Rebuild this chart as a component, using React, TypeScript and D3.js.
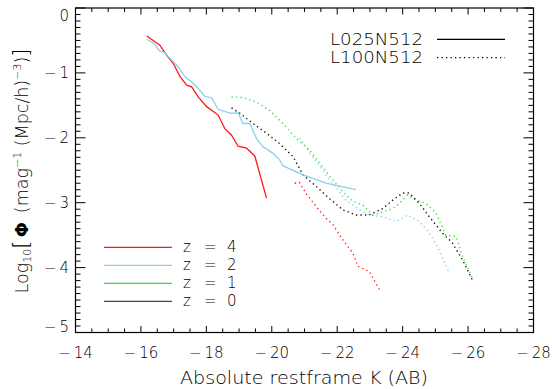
import React from "react";
import * as d3 from "d3";

type Pt = [number, number];

// Luminosity function curves: [absolute K magnitude, log10 Phi]
const z4Small: Pt[] = [
  [-16.18, -0.43], [-16.58, -0.574], [-16.79, -0.728], [-16.99, -0.855], [-17.2, -1.06],
  [-17.4, -1.19], [-17.55, -1.215], [-17.75, -1.37], [-18.01, -1.52], [-18.36, -1.65],
  [-18.56, -1.855], [-18.77, -1.96], [-18.97, -2.13], [-19.23, -2.16], [-19.48, -2.28],
  [-19.84, -2.93],
];
const z2Small: Pt[] = [
  [-16.18, -0.486], [-16.38, -0.538], [-16.58, -0.666], [-16.73, -0.686], [-16.94, -0.805],
  [-17.14, -0.908], [-17.35, -1.06], [-17.55, -1.14], [-17.75, -1.24], [-17.95, -1.36],
  [-18.16, -1.385], [-18.36, -1.56], [-18.72, -1.62], [-18.97, -1.615], [-19.12, -1.78],
  [-19.33, -1.78], [-19.53, -2.01], [-19.73, -2.14], [-20.04, -2.24], [-20.24, -2.34],
  [-20.34, -2.43], [-20.95, -2.57], [-21.66, -2.7], [-22.58, -2.8],
];
const z4Large: Pt[] = [
  [-20.7, -2.7], [-20.85, -2.69], [-21.05, -2.86], [-21.36, -3.06], [-21.66, -3.24],
  [-21.87, -3.34], [-22.17, -3.57], [-22.48, -3.78], [-22.63, -3.98], [-22.98, -4.06],
  [-23.29, -4.34],
];
const z2Large: Pt[] = [
  [-20.85, -2.0], [-21.26, -2.3], [-21.77, -2.65], [-22.27, -2.96], [-22.68, -3.11],
  [-22.98, -3.19], [-23.39, -3.22], [-23.8, -3.29], [-24.15, -3.19], [-24.51, -3.29],
  [-24.82, -3.47], [-25.12, -3.73], [-25.43, -4.09],
];
const z1Large: Pt[] = [
  [-18.77, -1.37], [-19.12, -1.38], [-19.53, -1.45], [-19.94, -1.58], [-20.34, -1.78],
  [-20.75, -2.01], [-21.16, -2.19], [-21.46, -2.39], [-21.87, -2.65], [-22.17, -2.83],
  [-22.48, -2.98], [-22.78, -3.035], [-23.09, -3.19], [-23.39, -3.14], [-23.7, -3.09],
  [-23.9, -3.01], [-24.15, -2.88], [-24.41, -2.96], [-24.71, -3.01], [-25.02, -3.16],
  [-25.32, -3.5], [-25.63, -3.52], [-25.83, -3.83], [-26.13, -4.16],
];
const z0Large: Pt[] = [
  [-18.77, -1.54], [-19.02, -1.62], [-19.43, -1.78], [-19.84, -1.93], [-20.24, -2.09],
  [-20.65, -2.29], [-20.95, -2.57], [-21.36, -2.75], [-21.77, -2.94], [-22.17, -3.11],
  [-22.58, -3.19], [-22.98, -3.19], [-23.39, -3.09], [-23.7, -2.96], [-24.0, -2.85],
  [-24.2, -2.85], [-24.51, -3.01], [-24.82, -3.22], [-25.22, -3.47], [-25.52, -3.62],
  [-25.83, -3.88], [-26.16, -4.22],
];

const xTicks = [-14, -16, -18, -20, -22, -24, -26, -28];
const yTicks = [0, -1, -2, -3, -4, -5];
const redshiftLabels = ["4", "2", "1", "0"];
const boxLabels = ["L025N512", "L100N512"];

const RED = "#ff1a1a";
const BLUE = "#8ccfec";
const GREEN = "#33e633";
const BLACK = "#111";
const redshiftColors = [RED, BLUE, GREEN, "#444"];

const W = 552;
const H = 389;
const M = { left: 75.5, right: 533.5, top: 8, bottom: 332.5 };
const FONT = "DejaVu Sans";

export default function App() {
  const x = d3.scaleLinear().domain([-14, -28]).range([M.left, M.right]);
  const y = d3.scaleLinear().domain([0, -5]).range([M.top, M.bottom]);
  const line = d3
    .line<Pt>()
    .x((d) => x(d[0]))
    .y((d) => y(d[1]));

  const xMinor = d3.range(-14, -28.01, -0.5);
  const yMinor = d3.range(0, -5.001, -0.1);

  const solids: [Pt[], string][] = [
    [z4Small, RED],
    [z2Small, BLUE],
  ];
  const dotted: [Pt[], string][] = [
    [z4Large, RED],
    [z2Large, BLUE],
    [z1Large, GREEN],
    [z0Large, BLACK],
  ];

  const minus = (v: number) => (v < 0 ? "\u2212\u2009" + Math.abs(v) : String(v));

  return (
    <svg width={W} height={H} style={{ display: "block", position: "absolute", left: 0, top: 0 }}>
      <rect width={W} height={H} fill="#fff" />
      <g fontFamily={FONT} fill="#000" fontWeight={300}>
        {/* curves */}
        {dotted.map(([d, c], i) => (
          <path
            key={"d" + i}
            d={line(d) ?? ""}
            fill="none"
            stroke={c}
            strokeWidth={1.4}
            strokeDasharray="1.3 3.2"
          />
        ))}
        {solids.map(([d, c], i) => (
          <path key={"s" + i} d={line(d) ?? ""} fill="none" stroke={c} strokeWidth={1.3} />
        ))}

        {/* frame */}
        <rect
          x={M.left}
          y={M.top}
          width={M.right - M.left}
          height={M.bottom - M.top}
          fill="none"
          stroke="#000"
          strokeWidth={1.2}
        />

        {/* x ticks, bottom and top */}
        {xMinor.map((v, i) => {
          const major = Math.abs(v % 2) < 1e-6;
          const len = major ? 6.5 : 4;
          return (
            <g key={"xt" + i} stroke="#000" strokeWidth={1}>
              <line x1={x(v)} x2={x(v)} y1={M.bottom} y2={M.bottom - len} />
              <line x1={x(v)} x2={x(v)} y1={M.top} y2={M.top + len} />
            </g>
          );
        })}
        {/* y ticks, left and right */}
        {yMinor.map((v, i) => {
          const major = Math.abs(Math.round(v) - v) < 1e-6;
          const len = major ? 10 : 5;
          return (
            <g key={"yt" + i} stroke="#000" strokeWidth={1}>
              <line x1={M.left} x2={M.left + len} y1={y(v)} y2={y(v)} />
              <line x1={M.right} x2={M.right - len} y1={y(v)} y2={y(v)} />
            </g>
          );
        })}

        {/* tick labels */}
        {xTicks.map((v) => (
          <text key={"xl" + v} x={x(v)} y={358} fontSize={15} textAnchor="middle">
            {minus(v)}
          </text>
        ))}
        {yTicks.map((v) => {
          const shift = v === 0 ? 7 : v === -5 ? -6 : 0;
          return (
            <text key={"yl" + v} x={69} y={y(v) + shift + 5.5} fontSize={15} textAnchor="end">
              {minus(v)}
            </text>
          );
        })}

        {/* axis titles */}
        <text
          x={304}
          y={384}
          fontSize={17.5}
          textAnchor="middle"
          textLength={248}
          lengthAdjust="spacingAndGlyphs"
        >
          Absolute restframe K (AB)
        </text>
        <text transform="translate(28,171) rotate(-90)" fontSize={17.5} textAnchor="middle">
          Log
          <tspan fontSize={11} dy={3}>10</tspan>
          <tspan dy={-3} fontSize={21}>[</tspan>
          <tspan fontWeight={700}>{"\u2009\u03A6\u2009"}</tspan>
          <tspan>{" (mag"}</tspan>
          <tspan fontSize={11} dy={-7}>{"\u22121"}</tspan>
          <tspan dy={7}>{" (Mpc/h)"}</tspan>
          <tspan fontSize={11} dy={-7}>{"\u22123"}</tspan>
          <tspan dy={7}>)</tspan>
          <tspan fontSize={21}>]</tspan>
        </text>

        {/* simulation legend */}
        {boxLabels.map((lab, i) => {
          const ly = [39.3, 57.7][i];
          return (
            <g key={lab}>
              <text
                x={330}
                y={ly + 5.5}
                fontSize={16}
                textLength={93}
                lengthAdjust="spacingAndGlyphs"
              >
                {lab}
              </text>
              <line
                x1={437}
                x2={505}
                y1={ly}
                y2={ly}
                stroke="#000"
                strokeWidth={1.2}
                strokeDasharray={i === 0 ? undefined : "1.3 3.2"}
              />
            </g>
          );
        })}

        {/* redshift legend */}
        {redshiftLabels.map((lab, i) => {
          const ly = 247.3 + i * 18;
          return (
            <g key={"z" + lab}>
              <line x1={104} x2={172} y1={ly} y2={ly} stroke={redshiftColors[i]} strokeWidth={1.3} />
              <text x={183} y={ly + 5} fontSize={15}>z</text>
              <text x={204} y={ly + 5} fontSize={15}>=</text>
              <text x={227} y={ly + 5} fontSize={15}>{lab}</text>
            </g>
          );
        })}
      </g>
    </svg>
  );
}
